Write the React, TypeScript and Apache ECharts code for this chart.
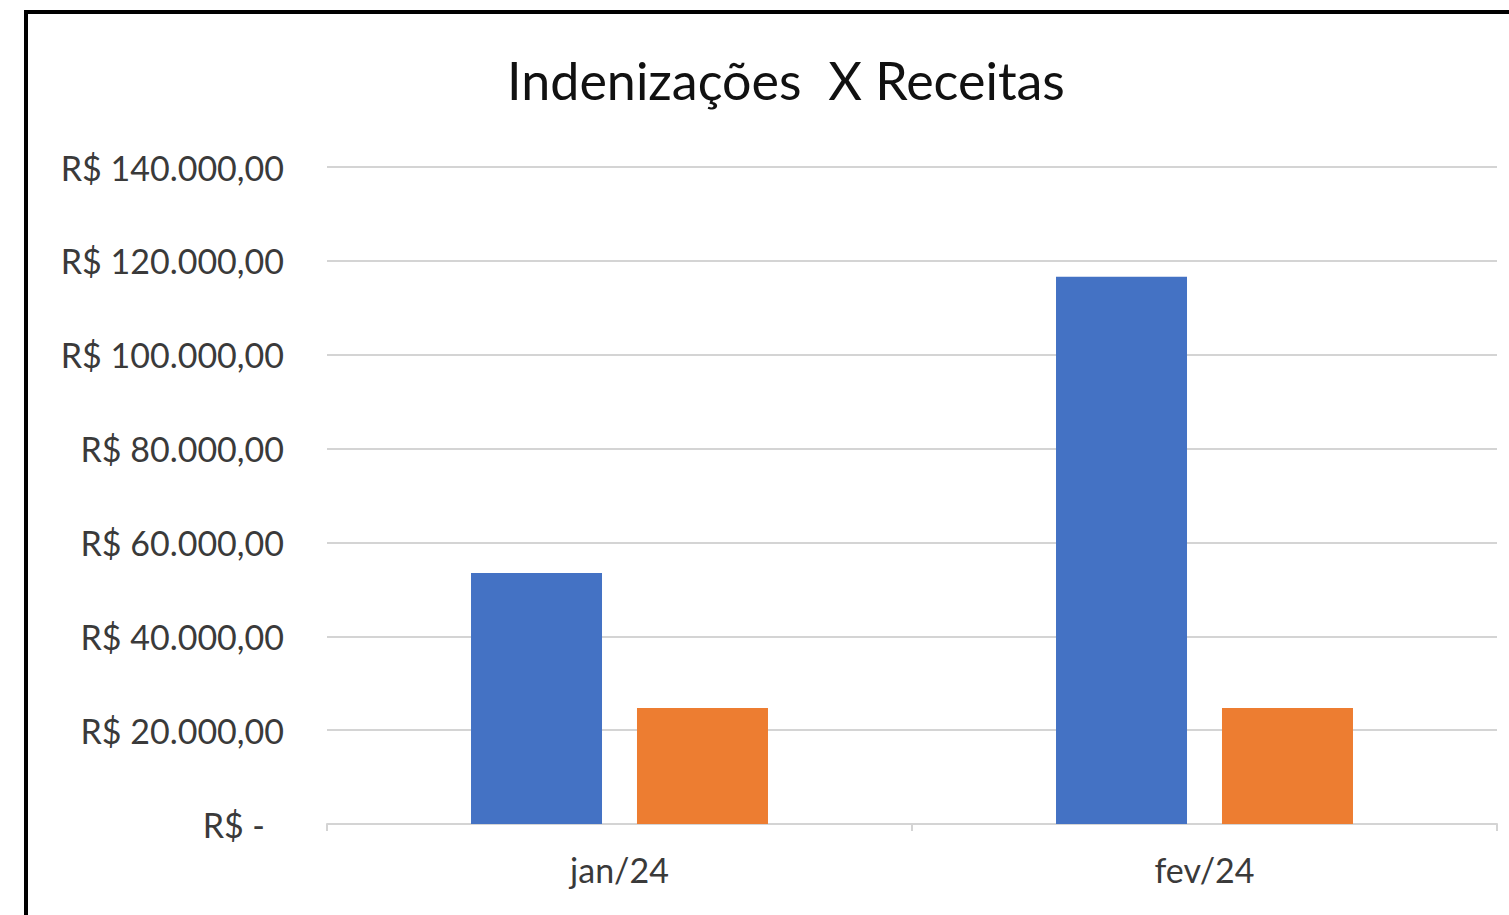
import React, { useEffect, useRef } from "react";
import * as echarts from "echarts";

const categories = ["jan/24", "fev/24"];
const indenizacoes = [53500, 116600];
const receitas = [24700, 24700];
const yTicks = [0, 20000, 40000, 60000, 80000, 100000, 120000, 140000];

function fmtBRL(v: number): string {
  if (v === 0) return "{z|R$ -}";
  const int = Math.floor(v).toString().replace(/\B(?=(\d{3})+(?!\d))/g, ".");
  return "R$ " + int + ",00";
}

export default function App() {
  const ref = useRef<HTMLDivElement>(null);
  useEffect(() => {
    if (!ref.current) return;
    const chart = echarts.init(ref.current, undefined, { renderer: "svg" });
    const font = "Lato, 'Open Sans', sans-serif";
    chart.setOption({
      animation: false,
      backgroundColor: "#ffffff",
      title: {
        text: "Indenizações  X Receitas",
        left: 781,
        textAlign: "center",
        top: 49,
        textStyle: { fontFamily: font, fontSize: 52, fontWeight: "normal", color: "#111111" },
      },
      graphic: [
        {
          type: "rect",
          shape: { x: 26, y: 12, width: 1600, height: 1000 },
          style: { fill: "none", stroke: "#000000", lineWidth: 4 },
          silent: true,
        },
      ],
      grid: { left: 327, right: 12, top: 167, bottom: 91, containLabel: false },
      xAxis: {
        type: "category",
        data: categories,
        axisLine: { show: true, lineStyle: { color: "#d4d4d4", width: 2 } },
        axisTick: { show: true, length: 7, lineStyle: { color: "#d4d4d4", width: 2 } },
        axisLabel: { fontFamily: font, fontSize: 34, color: "#3a3a3a", margin: 28 },
      },
      yAxis: {
        type: "value",
        min: yTicks[0],
        max: yTicks[yTicks.length - 1],
        interval: 20000,
        axisLine: { show: false },
        axisTick: { show: false },
        splitLine: { lineStyle: { color: "#d4d4d4", width: 2 } },
        axisLabel: {
          fontFamily: font,
          fontSize: 34,
          color: "#3a3a3a",
          margin: 43,
          formatter: (v: number) => fmtBRL(v),
          rich: { z: { fontFamily: font, fontSize: 34, color: "#3a3a3a", padding: [0, 19, 0, 0] } },
        },
      },
      series: [
        {
          name: "Indenizações",
          type: "bar",
          data: indenizacoes,
          barWidth: 131,
          barGap: "26.7%",
          itemStyle: { color: "#4472C4" },
        },
        {
          name: "Receitas",
          type: "bar",
          data: receitas,
          barWidth: 131,
          barGap: "26.7%",
          itemStyle: { color: "#ED7D31" },
        },
      ],
    });
    return () => chart.dispose();
  }, []);
  return (
    <div
      ref={ref}
      style={{ position: "fixed", left: 0, top: 0, width: 1509, height: 915 }}
    />
  );
}
